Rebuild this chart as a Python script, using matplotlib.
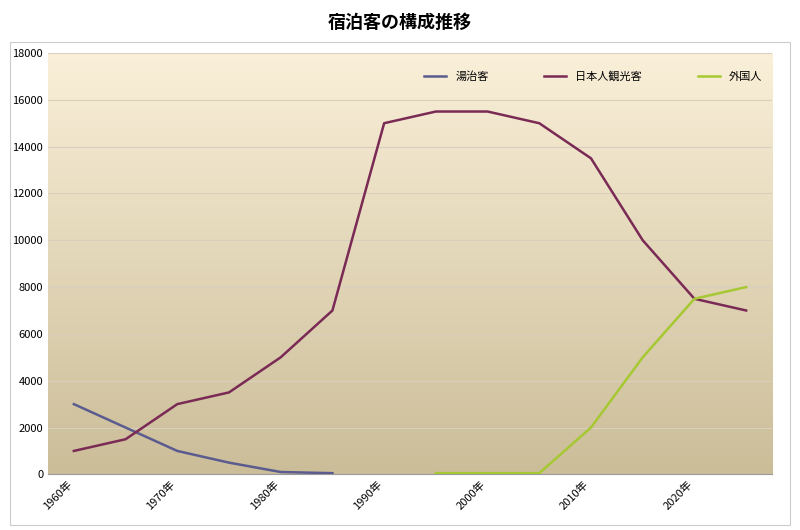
import matplotlib.pyplot as plt
import numpy as np

plt.rcParams['font.family'] = ['Noto Sans CJK JP', 'DejaVu Sans']

years = list(range(1960, 2030, 5))
tick_labels = [f"{y}年" if y % 10 == 0 else "" for y in years]
touji = [3000, 2000, 1000, 500, 100, 50] + [None] * 8
nihonjin = [1000, 1500, 3000, 3500, 5000, 7000, 15000, 15500, 15500, 15000, 13500, 10000, 7500, 7000]
gaikoku = [None] * 7 + [50, 50, 50, 2000, 5000, 7500, 8000]

fig = plt.figure(figsize=(8, 5.3), dpi=100)
fig.patches.append(plt.Rectangle((0.012, 0.01), 0.976, 0.91, transform=fig.transFigure,
                                 fill=False, edgecolor='#cccccc', lw=0.8))
ax = fig.add_axes([0.06, 0.105, 0.905, 0.795])
fig.suptitle("宿泊客の構成推移", y=0.975, fontsize=13, fontweight='bold')

x = np.arange(len(years))
ax.set_xlim(-0.5, len(years) - 0.5)
ax.set_ylim(0, 18000)

# gradient background
grad = np.linspace(0, 1, 256).reshape(-1, 1)
cmap = plt.matplotlib.colors.LinearSegmentedColormap.from_list('bg', ['#cbbd98', '#faf0d9'])
ax.imshow(grad, extent=[-0.5, len(years) - 0.5, 0, 18000], origin='lower',
          aspect='auto', cmap=cmap, zorder=0)

ax.set_yticks(range(0, 18001, 2000))
ax.grid(axis='y', color='#d8d0bc', lw=0.8, zorder=1)
ax.tick_params(axis='y', labelsize=8, length=0)
ax.set_xticks(x)
ax.set_xticklabels(tick_labels, rotation=45, ha='right', fontsize=8)
ax.tick_params(axis='x', length=0)
for s in ['top', 'right', 'left']:
    ax.spines[s].set_visible(False)
ax.spines['bottom'].set_color('#999999')

def arr(v):
    return np.array([np.nan if a is None else a for a in v], dtype=float)

ax.plot(x, arr(touji), color='#5b5b8f', lw=1.8, label='湯治客', zorder=3)
ax.plot(x, arr(nihonjin), color='#7a2a55', lw=1.8, label='日本人観光客', zorder=3)
ax.plot(x, arr(gaikoku), color='#a6c832', lw=1.8, label='外国人', zorder=3)

ax.legend(loc='upper right', ncol=3, frameon=False, fontsize=8, handlelength=2,
          columnspacing=5, bbox_to_anchor=(1.0, 0.98))

fig.savefig('out.png')
